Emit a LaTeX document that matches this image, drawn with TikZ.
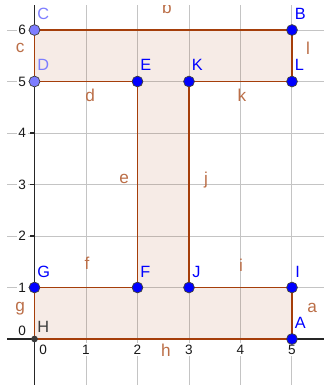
\documentclass[tikz,border=0pt]{standalone}
\usepackage{fontspec}
\setmainfont{Liberation Sans}
\definecolor{edgebrown}{RGB}{165,62,10}
\definecolor{ptblue}{RGB}{0,0,255}
\definecolor{ptlight}{RGB}{125,125,255}
\definecolor{ptdark}{RGB}{60,60,60}
\definecolor{gridgray}{RGB}{196,196,196}

\begin{document}
\begin{tikzpicture}
[x=1cm, y=1cm,
 gridline/.style={gridgray, line width=0.55pt},
 axisline/.style={black!85, line width=0.75pt},
 edge/.style={edgebrown, line width=0.75pt},
 seglab/.style={text=edgebrown!75, inner sep=0pt, font=\fontsize{9.5}{11}\selectfont},
 numlab/.style={fill=white, inner sep=1pt, text=black!90, font=\fontsize{7.5}{9}\selectfont},
 ptlab/.style={anchor=base west, inner sep=0pt, font=\fontsize{9}{10}\selectfont},
 freept/.style={circle, draw=black!75, line width=0.4pt, fill=ptblue, minimum size=0.21cm, inner sep=0pt},
 lightpt/.style={freept, fill=ptlight},
 darkpt/.style={circle, fill=ptdark, minimum size=0.13cm, inner sep=0pt}]
    \useasboundingbox (-0.670,-0.893) rectangle (5.621,6.583);
    \clip (-0.534,-0.893) rectangle (5.621,6.485);
    \coordinate (A) at (5, 0);
    \coordinate (B) at (5, 6);
    \coordinate (C) at (0, 6);
    \coordinate (D) at (0, 5);
    \coordinate (E) at (2, 5);
    \coordinate (F) at (2, 1);
    \coordinate (G) at (0, 1);
    \coordinate (H) at (0, 0);
    \coordinate (I) at (5, 1);
    \coordinate (J) at (3, 1);
    \coordinate (K) at (3, 5);
    \coordinate (L) at (5, 5);
    % grid
    \foreach \x in {1,...,5}
        \draw[gridline] (\x, -0.893) -- (\x, 6.485);
    \foreach \y in {1,...,6}
        \draw[gridline] (-0.534, \y) -- (5.621, \y);
    % axes
    \draw[axisline] (-0.534, 0) -- (5.621, 0);
    \draw[axisline] (0, -0.893) -- (0, 6.485);
    \foreach \y in {1,...,6}
        \draw[axisline] (0, \y) -- (-0.08, \y);
    % polygon
    \fill[edgebrown, opacity=0.1] (H) -- (A) -- (I) -- (J) -- (K) -- (L) -- (B)
        -- (C) -- (D) -- (E) -- (F) -- (G) -- cycle;
    \draw[edge] (A) -- (I);
    \node[seglab] (sa) at (5.39, 0.60) {a};
    \draw[edge] (I) -- (J);
    \node[seglab] (si) at (4.01, 1.44) {i};
    \draw[edge] (J) -- (K);
    \node[seglab] (sj) at (3.33, 3.09) {j};
    \draw[edge] (K) -- (L);
    \node[seglab] (sk) at (4.03, 4.74) {k};
    \draw[edge] (L) -- (B);
    \node[seglab] (sl) at (5.31, 5.65) {l};
    \draw[edge] (B) -- (C);
    \node[seglab, anchor=base] (sb) at (2.57, 6.32) {b};
    \draw[edge] (C) -- (D);
    \node[seglab] (sc) at (-0.28, 5.65) {c};
    \draw[edge] (D) -- (E);
    \node[seglab] (sd) at (1.08, 4.74) {d};
    \draw[edge] (E) -- (F);
    \node[seglab] (se) at (1.74, 3.11) {e};
    \draw[edge] (F) -- (G);
    \node[seglab] (sf) at (1.02, 1.48) {f};
    \draw[edge] (G) -- (H);
    \node[seglab] (sg) at (-0.28, 0.58) {g};
    \draw[edge] (H) -- (A);
    \node[seglab] (sh) at (2.55, -0.21) {h};
    % axis numbers
    \foreach \x in {1,...,5}
        \node[numlab] (nx\x) at (\x, -0.21) {\x};
    \foreach \y in {1,...,6}
        \node[numlab] (ny\y) at (-0.24, \y) {\y};
    \node[numlab] (nx0) at (0.17, -0.21) {0};
    \node[numlab] (ny0) at (-0.24, 0.16) {0};
    % points
    \node[freept] (pA) at (A) {};
    \node[ptlab, ptblue] (lA) at ([shift={(0.05, 0.20)}]A) {A};
    \node[freept] (pB) at (B) {};
    \node[ptlab, ptblue] (lB) at ([shift={(0.05, 0.21)}]B) {B};
    \node[lightpt] (pC) at (C) {};
    \node[ptlab, ptlight] (lC) at ([shift={(0.05, 0.21)}]C) {C};
    \node[lightpt] (pD) at (D) {};
    \node[ptlab, ptlight] (lD) at ([shift={(0.05, 0.21)}]D) {D};
    \node[freept] (pE) at (E) {};
    \node[ptlab, ptblue] (lE) at ([shift={(0.05, 0.21)}]E) {E};
    \node[freept] (pF) at (F) {};
    \node[ptlab, ptblue] (lF) at ([shift={(0.05, 0.19)}]F) {F};
    \node[freept] (pG) at (G) {};
    \node[ptlab, ptblue] (lG) at ([shift={(0.05, 0.19)}]G) {G};
    \node[darkpt] (pH) at (H) {};
    \node[ptlab, ptdark] (lH) at ([shift={(0.05, 0.12)}]H) {H};
    \node[freept] (pI) at (I) {};
    \node[ptlab, ptblue] (lI) at ([shift={(0.06, 0.19)}]I) {I};
    \node[freept] (pJ) at (J) {};
    \node[ptlab, ptblue] (lJ) at ([shift={(0.06, 0.19)}]J) {J};
    \node[freept] (pK) at (K) {};
    \node[ptlab, ptblue] (lK) at ([shift={(0.05, 0.21)}]K) {K};
    \node[freept] (pL) at (L) {};
    \node[ptlab, ptblue] (lL) at ([shift={(0.05, 0.21)}]L) {L};
\end{tikzpicture}
\end{document}
